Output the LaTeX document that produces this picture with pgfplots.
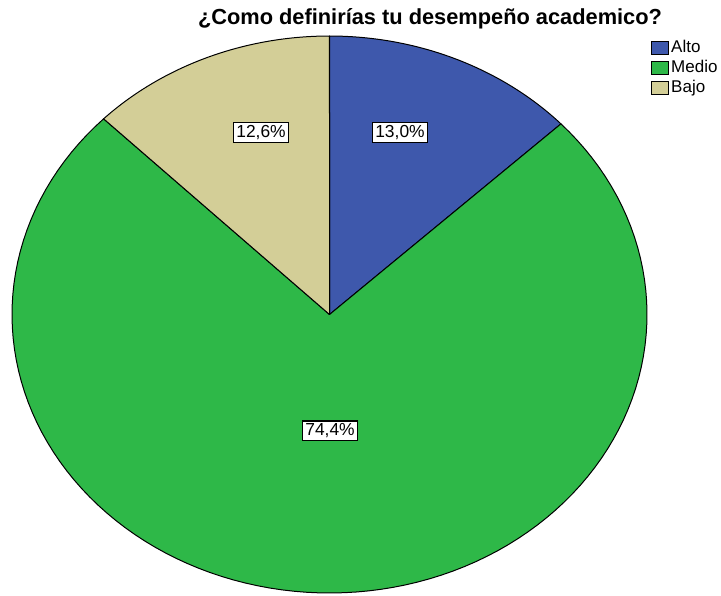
\documentclass[border=0pt]{standalone}
\usepackage{fontspec}
\setmainfont{Liberation Sans}
\usepackage{pgfplots}
\usepackage{pgfplotstable}
\pgfplotsset{compat=1.18}

\definecolor{altoc}{RGB}{62,88,172}
\definecolor{medioc}{RGB}{46,184,72}
\definecolor{bajoc}{RGB}{211,206,151}

% share of each answer, in percent (clockwise from 12 o'clock)
\pgfplotstableread{
cat   start share
Alto  0.0   13.0
Medio 13.0  74.4
Bajo  87.4  12.6
}\piedata

% #1 start (percent), #2 share (percent), #3 colour
\newcommand\slice[3]{%
  \pgfmathsetmacro\angA{90-3.6*#1}%
  \pgfmathsetmacro\angB{90-3.6*(#1+#2)}%
  \filldraw[fill=#3, draw=black, line width=0.5pt, line join=round]
    (axis cs:0,0) -- plot[domain=\angA:\angB, samples=120, variable=\t]
    (axis cs:{cos(\t)},{sin(\t)}) -- cycle;
}

\begin{document}
\begin{tikzpicture}
\useasboundingbox (-6pt,-1pt) rectangle (354.5pt,296.5pt);
\begin{axis}[
    scale only axis,
    width=317.5pt, height=278.5pt,
    xmin=-1, xmax=1, ymin=-1, ymax=1,
    hide axis, clip=false,
    legend style={draw=none, fill=none, font=\fontsize{8.5}{10}\selectfont,
        at={(rel axis cs:1.006,0.997)}, anchor=north west,
        inner sep=0pt, row sep=0pt,
        nodes={inner sep=1pt, text height=6.3pt, text depth=1.7pt},
        legend cell align=left},
    legend image code/.code={\draw[#1, line width=0.5pt] (0pt,-3.25pt) rectangle (8.5pt,3.25pt);},
]
\pgfplotstablegetelem{0}{share}\of\piedata \let\sA\pgfplotsretval
\pgfplotstablegetelem{1}{share}\of\piedata \let\sB\pgfplotsretval
\pgfplotstablegetelem{2}{share}\of\piedata \let\sC\pgfplotsretval
\pgfplotstablegetelem{1}{start}\of\piedata \let\oB\pgfplotsretval
\pgfplotstablegetelem{2}{start}\of\piedata \let\oC\pgfplotsretval
\pgfplotsextra{%
  \slice{0}{\sA}{altoc}%
  \slice{\oB}{\sB}{medioc}%
  \slice{\oC}{\sC}{bajoc}%
}
\addlegendimage{fill=altoc, draw=black}\addlegendentry{Alto}
\addlegendimage{fill=medioc, draw=black}\addlegendentry{Medio}
\addlegendimage{fill=bajoc, draw=black}\addlegendentry{Bajo}

\tikzset{pct/.style={draw=black, fill=white, line width=0.6pt, inner sep=1.4pt,
    font=\fontsize{8.7}{10}\selectfont}}
\node[pct] at (axis cs:0.222,0.6535) {13,0\%};
\node[pct] at (axis cs:-0.2157,0.6535) {12,6\%};
\node[pct] at (axis cs:0.0016,-0.418) {74,4\%};
\end{axis}
\node[font=\fontsize{10.9}{13}\selectfont\bfseries] at (209pt,287pt)
  {¿Como definirías tu desempeño academico?};
\end{tikzpicture}
\end{document}
